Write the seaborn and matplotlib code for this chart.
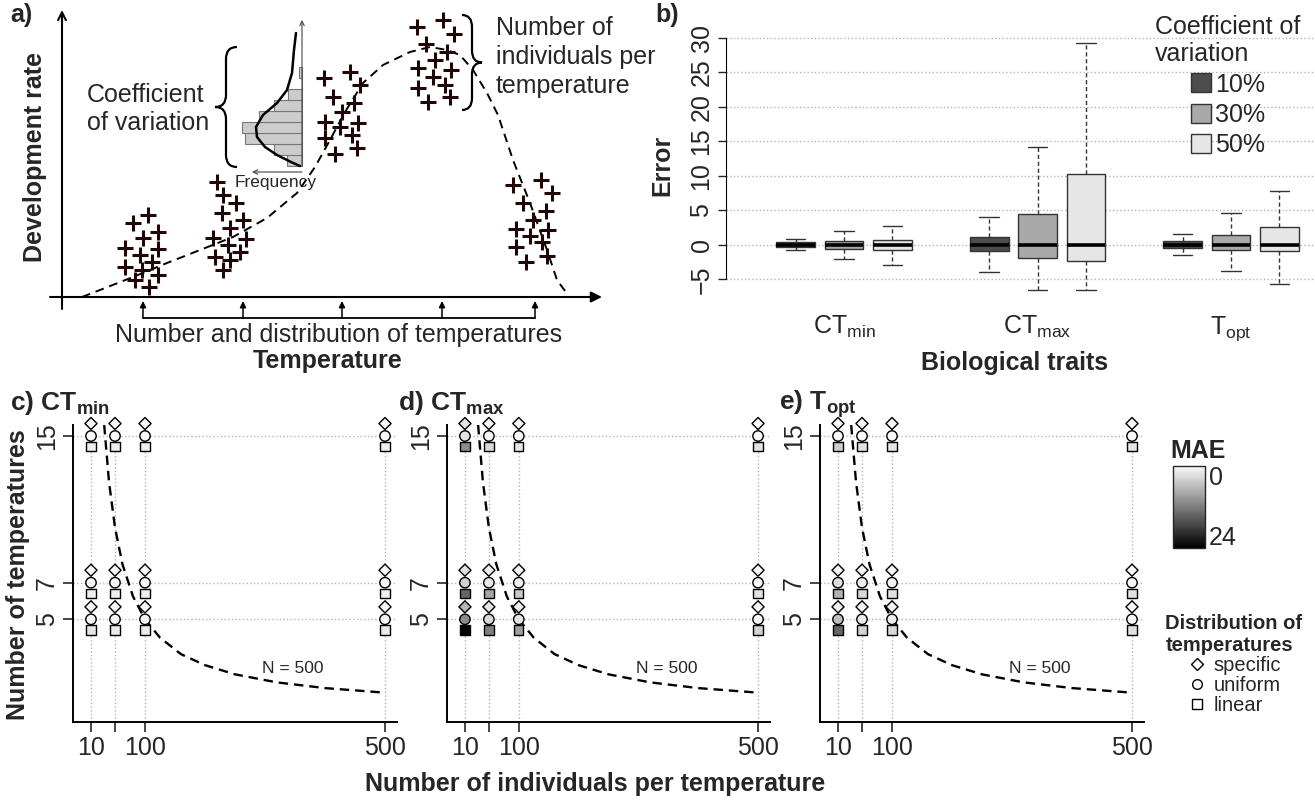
import matplotlib
matplotlib.use("Agg")
import numpy as np
import pandas as pd
import seaborn as sns
from matplotlib import pyplot as plt
from matplotlib.path import Path
from matplotlib.patches import PathPatch, Patch
from matplotlib.lines import Line2D
from matplotlib.colors import LinearSegmentedColormap, Normalize
from matplotlib.cm import ScalarMappable

# ---------------- data ----------------
# panel a: schematic development-rate curve (arbitrary units)
plus_temp = [86, 71, 96, 81, 63, 96, 78, 90, 63, 80, 96, 73, 87,
             155, 161, 174, 160, 181, 168, 151, 184, 166, 178, 153, 168, 161,
             262, 288, 298, 271, 292, 280, 263, 296, 278, 290, 263, 295, 273,
             355, 381, 392, 364, 385, 373, 356, 389, 371, 383, 356, 388, 366,
             451, 479, 490, 461, 484, 471, 454, 486, 468, 480, 454, 485, 464]
plus_rate = [82, 74, 65, 59, 49, 48, 42, 35, 30, 27, 22, 17, 10,
             115, 102, 94, 84, 77, 69, 59, 58, 52, 45, 40, 37, 27,
             219, 225, 212, 200, 194, 185, 175, 174, 170, 162, 159, 149, 143,
             270, 277, 263, 253, 245, 237, 229, 227, 220, 212, 209, 200, 195,
             112, 117, 104, 94, 86, 77, 68, 67, 61, 55, 50, 41, 35]
curve_temp = [20, 38, 71, 105, 138, 171, 205, 235, 253, 268, 283, 301, 321,
              348, 368, 385, 398, 411, 425, 436, 451, 468, 485, 495, 506]
curve_rate = [0, 7, 20, 34, 47, 60, 79, 104, 130, 157, 185, 214, 232,
              245, 250, 247, 242, 227, 204, 182, 137, 94, 47, 17, 2]
sample_temps = [81, 181, 280, 380, 473]
hist_rate = [136.5, 147.5, 158.5, 169.5, 180.5, 191.5, 202.5, 213.5, 224.5]
hist_freq = [15, 28, 57, 60, 43, 28, 14, 0, 3]
density_rate = [264, 247, 224, 207, 194, 182, 170, 160, 150, 142, 135, 131]
density_freq = [6, 8, 10, 15, 25, 39, 46, 45, 37, 25, 11, 2]

# panel b: error five-number summaries (min, q1, median, q3, max)
traits = ["CTmin", "CTmax", "Topt"]
trait_labels = ["CT$_{min}$", "CT$_{max}$", "T$_{opt}$"]
cv_levels = ["10%", "30%", "50%"]
cv_colors = ["#4d4d4d", "#a9a9a9", "#e6e6e6"]
err_ctmin = [[-0.7, -0.25, 0, 0.35, 0.8], [-2.1, -0.6, -0.05, 0.5, 2.0], [-2.9, -0.8, 0, 0.7, 2.7]]
err_ctmax = [[-3.9, -0.9, 0, 1.2, 4.1], [-6.6, -1.9, 0, 4.5, 14.2], [-6.6, -2.4, -0.05, 10.3, 29.3]]
err_topt = [[-1.5, -0.4, 0, 0.5, 1.5], [-3.8, -0.7, 0, 1.4, 4.6], [-5.7, -0.9, 0, 2.6, 7.8]]

# panels c-e: MAE per design, rows T = 5, 7, 15 and columns n = 10, 50, 100, 500
n_individuals = [10, 50, 100, 500]
n_temps = [5, 7, 15]
methods = ["specific", "uniform", "linear"]
mae_ctmin = {
    "specific": [0.2, 0.2, 0.2, 0.2, 0.2, 0.2, 0.2, 0.2, 0.2, 0.2, 0.2, 0.2],
    "uniform": [0.2, 0.2, 0.2, 0.2, 0.2, 0.2, 0.2, 0.2, 0.2, 0.2, 0.2, 0.2],
    "linear": [2.0, 1.5, 1.5, 1.5, 1.2, 1.2, 1.2, 1.2, 1.2, 1.2, 1.2, 1.2],
}
mae_ctmax = {
    "specific": [6.4, 2.0, 1.2, 0.2, 2.4, 1.2, 0.7, 0.2, 2.0, 0.7, 0.5, 0.2],
    "uniform": [10.5, 3.2, 2.0, 0.2, 3.9, 1.7, 1.2, 0.2, 2.0, 0.7, 0.5, 0.2],
    "linear": [24.0, 11.8, 8.8, 3.9, 14.2, 8.1, 4.9, 2.4, 10.5, 3.2, 2.0, 2.4],
}
mae_topt = {
    "specific": [1.2, 0.5, 0.7, 0.2, 0.5, 0.5, 0.5, 0.2, 0.2, 0.2, 0.2, 0.2],
    "uniform": [5.6, 1.5, 1.2, 0.2, 2.4, 1.0, 0.7, 0.2, 0.5, 0.2, 0.2, 0.2],
    "linear": [14.2, 3.9, 3.2, 2.4, 6.9, 3.2, 2.4, 2.4, 4.4, 2.4, 2.0, 2.0],
}
iso_n = [32, 40, 50, 62.5, 80, 100, 125, 160, 200, 250, 320, 400, 500]
iso_T = [15.6, 12.5, 10, 8, 6.25, 5, 4, 3.1, 2.5, 2, 1.56, 1.25, 1]

# ---------------- figure ----------------
sns.set_style("white")
plt.rcParams["font.family"] = ["Liberation Sans", "DejaVu Sans"]
plt.rcParams["mathtext.default"] = "regular"

W, H = 1315, 800
FS = 18


def box(l, t, r, b):
    return [l / W, 1 - b / H, (r - l) / W, (b - t) / H]


def brace(ax, x_end, x_tip, y0, y1, r=12):
    xm = (x_end + x_tip) / 2
    ym = (y0 + y1) / 2
    verts = [(x_end, y1), (xm, y1), (xm, y1 - r), (xm, ym + r),
             (xm, ym), (x_tip, ym), (xm, ym), (xm, ym - r),
             (xm, y0 + r), (xm, y0), (x_end, y0)]
    codes = [Path.MOVETO, Path.CURVE3, Path.CURVE3, Path.LINETO,
             Path.CURVE3, Path.CURVE3, Path.CURVE3, Path.CURVE3,
             Path.LINETO, Path.CURVE3, Path.CURVE3]
    ax.add_patch(PathPatch(Path(verts, codes), fill=False, lw=1.6, color="black"))


fig = plt.figure(figsize=(W / 100, H / 100), dpi=100)

# ---- a) schematic
ax_a = fig.add_axes(box(0, 0, 620, 370))
ax_a.set_xlim(-62, 558)
ax_a.set_ylim(-73, 297)
ax_a.axis("off")

ax_a.annotate("", xy=(0, 287), xytext=(0, -12),
              arrowprops=dict(arrowstyle="->", color="black", lw=1.5, mutation_scale=14,
                              shrinkA=0, shrinkB=0))
ax_a.annotate("", xy=(540, 0), xytext=(-12, 0),
              arrowprops=dict(arrowstyle="-|>", color="black", lw=1.5, mutation_scale=16,
                              shrinkA=0, shrinkB=0))
for t in sample_temps:
    ax_a.annotate("", xy=(t, -4), xytext=(t, -21),
                  arrowprops=dict(arrowstyle="-|>", color="black", lw=1.1, mutation_scale=9,
                                  shrinkA=0, shrinkB=0))
ax_a.plot([sample_temps[0], sample_temps[-1]], [-21, -21], color="black", lw=1.3)

sns.lineplot(x=curve_temp, y=curve_rate, sort=False, estimator=None, color="black",
             lw=1.4, linestyle=(0, (4.5, 3)), ax=ax_a)
sns.scatterplot(x=plus_temp, y=plus_rate, marker="+", s=120, linewidth=2.2,
                color="#1f0707", ax=ax_a, zorder=4)

# inset histogram
ax_a.barh(hist_rate, hist_freq, left=[240 - f for f in hist_freq], height=11,
          color="#cccccc", edgecolor="#777777", lw=0.8)
ax_a.plot([240 - f for f in density_freq], density_rate, color="black", lw=1.8)
ax_a.annotate("", xy=(240, 277), xytext=(240, 131),
              arrowprops=dict(arrowstyle="->", color="#444444", lw=0.8, mutation_scale=8,
                              shrinkA=0, shrinkB=0))
ax_a.annotate("", xy=(190, 125), xytext=(240, 125),
              arrowprops=dict(arrowstyle="->", color="#444444", lw=0.8, mutation_scale=8,
                              shrinkA=0, shrinkB=0))
ax_a.text(214, 114, "Frequency", fontsize=12.5, ha="center", va="center")

brace(ax_a, 175, 153, 130, 250)
brace(ax_a, 400, 420, 187, 282)
ax_a.text(25, 188, "Coefficient\nof variation", fontsize=FS, ha="left", va="center",
          linespacing=1.25)
ax_a.text(434, 240, "Number of\nindividuals per\ntemperature", fontsize=FS, ha="left",
          va="center", linespacing=1.25)
ax_a.text(277, -38, "Number and distribution of temperatures", fontsize=FS,
          ha="center", va="center")
ax_a.text(266, -64, "Temperature", fontsize=FS, fontweight="bold", ha="center", va="center")
ax_a.text(-27, 140, "Development rate", fontsize=FS, fontweight="bold", rotation=90,
          ha="center", va="center")
ax_a.text(-52, 282, "a)", fontsize=FS, fontweight="bold", ha="left", va="center")

# ---- b) boxplots
rows = []
for trait, summaries in zip(traits, [err_ctmin, err_ctmax, err_topt]):
    for cv, vals in zip(cv_levels, summaries):
        for v in vals:
            rows.append({"trait": trait, "cv": cv, "error": v})
df_box = pd.DataFrame(rows)

ax_b = fig.add_axes(box(726, 31, 1315, 300))
ax_b.yaxis.grid(True, linestyle=":", color="#b5b5b5", lw=1)
ax_b.set_axisbelow(True)
sns.boxplot(data=df_box, x="trait", y="error", hue="cv", order=traits, hue_order=cv_levels,
            palette=cv_colors, whis=(0, 100), width=0.75, gap=0.2, linecolor="#333333",
            linewidth=1, showfliers=False, legend=False, ax=ax_b,
            medianprops=dict(color="black", linewidth=2.6),
            whiskerprops=dict(linestyle=(0, (3, 2))))
ax_b.set_xlim(-0.61, 2.434)
ax_b.set_ylim(-8, 31)
ax_b.set_yticks(range(-5, 31, 5))
ax_b.set_xticks([0, 1, 2])
ax_b.set_xticklabels(trait_labels)
for lab in ax_b.get_yticklabels():
    lab.set_rotation(90)
    lab.set_va("center")
ax_b.tick_params(axis="y", left=True, length=6, width=1, labelsize=FS, pad=3)
ax_b.tick_params(axis="x", length=0, labelsize=FS, pad=10)
for side in ["top", "right", "bottom"]:
    ax_b.spines[side].set_visible(False)
ax_b.spines["left"].set_bounds(-5, 30)
ax_b.spines["left"].set_color("black")
ax_b.set_xlabel("Biological traits", fontsize=FS, fontweight="bold")
ax_b.xaxis.set_label_coords(0.49, -0.19)
ax_b.set_ylabel("Error", fontsize=FS, fontweight="bold")
ax_b.yaxis.set_label_coords(-0.088, 0.5)
fig.text(655 / W, 1 - 15 / H, "b)", fontsize=FS, fontweight="bold", va="center")
ax_b.legend([Patch(facecolor=c, edgecolor="#333333") for c in cv_colors], cv_levels,
            title="Coefficient of\nvariation", loc="upper center",
            bbox_to_anchor=(1228 / W, 1 - 2 / H), bbox_transform=fig.transFigure,
            frameon=False, fontsize=FS, title_fontsize=FS, handlelength=0.8,
            handleheight=0.8, handletextpad=0.15, labelspacing=0.25, borderpad=0)

# ---- c-e) MAE per design
mae_cmap = LinearSegmentedColormap.from_list("mae", ["#fafafa", "#000000"])
offsets = {"specific": 0.68, "uniform": 0.0, "linear": -0.58}
markers = {"specific": "D", "uniform": "o", "linear": "s"}
sizes = {"specific": 38, "uniform": 56, "linear": 46}

rows = []
for trait, table in zip(traits, [mae_ctmin, mae_ctmax, mae_topt]):
    for method in methods:
        k = 0
        for T in n_temps:
            for n in n_individuals:
                rows.append({"trait": trait, "method": method, "n": n, "T": T,
                             "T_plot": T + offsets[method], "mae": table[method][k]})
                k += 1
df_mae = pd.DataFrame(rows)

panel_boxes = [(73, 425, 397, 722), (447, 425, 770, 722), (820, 425, 1144, 722)]
panel_titles = ["c) CT$_{min}$", "d) CT$_{max}$", "e) T$_{opt}$"]
title_x = [10, 398, 779]
for i, trait in enumerate(traits):
    ax = fig.add_axes(box(*panel_boxes[i]))
    ax.set_xlim(-20, 520)
    ax.set_ylim(-0.6, 15.6)
    ax.grid(True, linestyle=":", color="#b5b5b5", lw=1)
    ax.set_axisbelow(True)
    sns.lineplot(x=iso_n, y=iso_T, sort=False, estimator=None, color="black", lw=1.7,
                 linestyle=(0, (4, 2.5)), ax=ax)
    for method in methods:
        sub = df_mae[(df_mae.trait == trait) & (df_mae.method == method)]
        sns.scatterplot(data=sub, x="n", y="T_plot", hue="mae", palette=mae_cmap,
                        hue_norm=(0, 24), marker=markers[method], s=sizes[method],
                        edgecolor="black", linewidth=1, legend=False, ax=ax,
                        clip_on=False, zorder=4)
    ax.text(347, 2.3, "N = 500", fontsize=12.5, ha="center", va="center")
    ax.set_xticks(n_individuals)
    ax.set_xticklabels(["10", "", "100", "500"])
    ax.set_yticks(n_temps)
    ax.set_yticklabels([str(t) for t in n_temps])
    for lab in ax.get_yticklabels():
        lab.set_rotation(90)
        lab.set_va("center")
    ax.tick_params(axis="both", bottom=True, left=True, length=7, width=1.2,
                   labelsize=FS, pad=3)
    for side in ["top", "right"]:
        ax.spines[side].set_visible(False)
    for side in ["left", "bottom"]:
        ax.spines[side].set_color("black")
        ax.spines[side].set_linewidth(1.4)
    ax.set_xlabel("")
    ax.set_ylabel("")
    fig.text(title_x[i] / W, 1 - 410 / H, panel_titles[i], fontsize=FS + 1,
             fontweight="bold", va="baseline")
    if i == 0:
        ax.set_ylabel("Number of temperatures", fontsize=FS, fontweight="bold")
        ax.yaxis.set_label_coords(-0.133, 0.495)

fig.text(595 / W, 1 - 784 / H, "Number of individuals per temperature", fontsize=FS,
         fontweight="bold", ha="center", va="center")

# MAE colour bar
cax = fig.add_axes(box(1173, 466, 1205, 548))
cb = fig.colorbar(ScalarMappable(norm=Normalize(0, 24), cmap=mae_cmap), cax=cax)
cb.ax.invert_yaxis()
cb.set_ticks([])
cb.outline.set_linewidth(1)
cax.text(1.12, 1.0, "0", transform=cax.transAxes, fontsize=FS, va="top", ha="left")
cax.text(1.12, -0.03, "24", transform=cax.transAxes, fontsize=FS, va="bottom", ha="left")
fig.text(1170 / W, 1 - 458 / H, "MAE", fontsize=FS, fontweight="bold", va="baseline")

# distribution legend
dist_handles = [Line2D([], [], ls="", marker=markers[m], mfc="white", mec="black",
                       ms=7 if m != "specific" else 6, mew=1) for m in methods]
fig.legend(dist_handles, methods, title="Distribution of\ntemperatures",
           title_fontproperties={"weight": "bold", "size": 14.5}, fontsize=14.5,
           loc="upper center", bbox_to_anchor=(1234 / W, 1 - 604 / H), frameon=False,
           handlelength=1.0, handletextpad=0.3, labelspacing=0.05, borderpad=0)

fig.savefig("out.png", dpi=100)
